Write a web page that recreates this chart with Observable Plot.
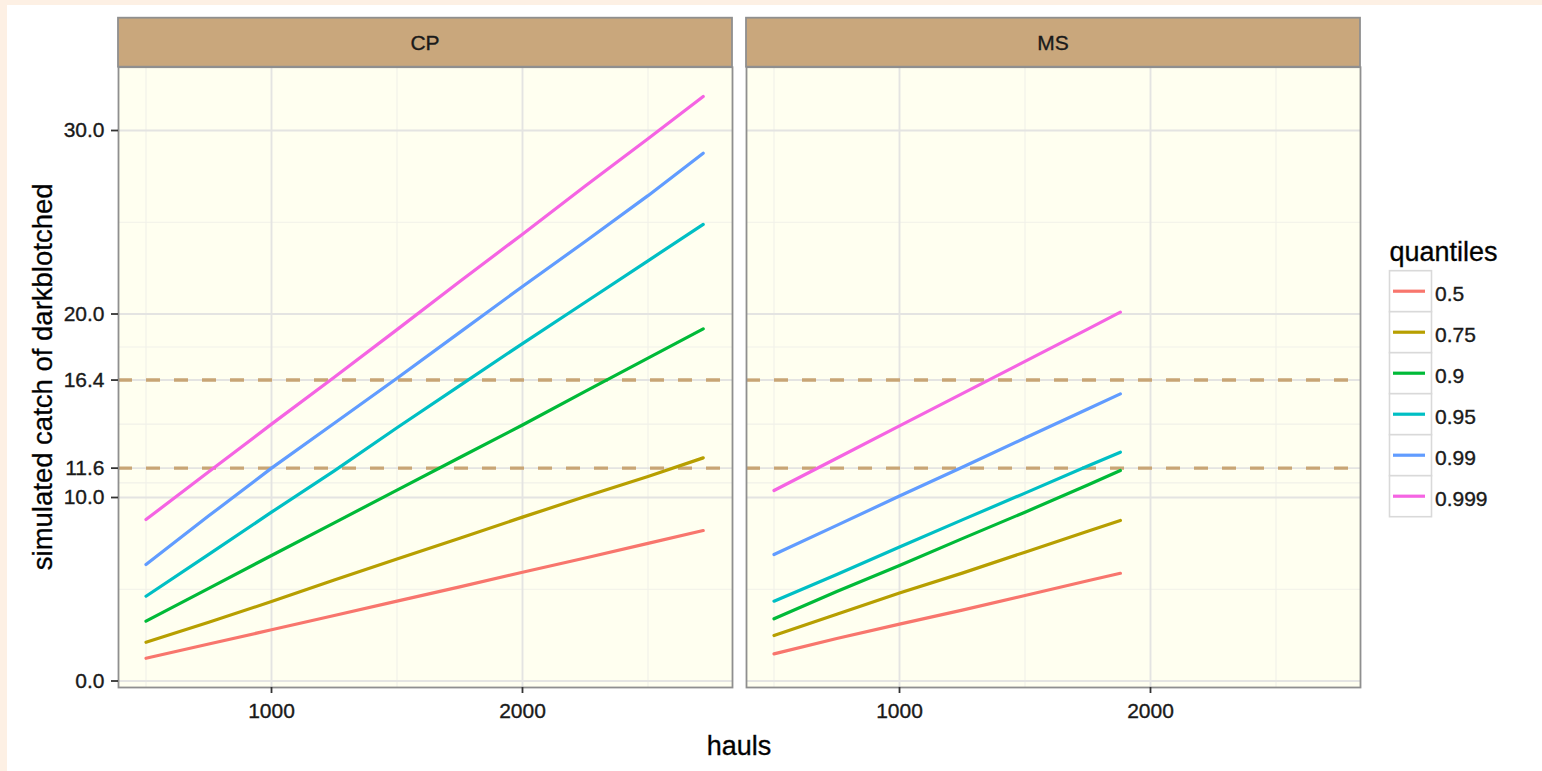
<!DOCTYPE html>
<html>
<head>
<meta charset="utf-8">
<script src="https://cdn.jsdelivr.net/npm/d3@7"></script>
<script src="https://cdn.jsdelivr.net/npm/@observablehq/plot@0.6"></script>
<style>
html, body { margin: 0; padding: 0; background: #fdf0e4; overflow: hidden; }
#page { position: relative; width: 1542px; height: 771px; overflow: hidden; font-family: "Liberation Sans", Arial, sans-serif; }
#white { position: absolute; left: 7px; top: 5px; right: 0; bottom: 0; background: #ffffff; }
#chart { position: absolute; left: 0; top: 0; }
#overlay { position: absolute; left: 0; top: 0; pointer-events: none; }
#chart text { stroke: #1a1a1a; stroke-width: 0.35px; }
</style>
</head>
<body>
<div id="page">
  <div id="white"></div>
  <div id="chart"></div>
</div>
<script>
// ---------------- data ----------------
const panels = ["CP", "MS"];
const quantiles = ["0.5", "0.75", "0.9", "0.95", "0.99", "0.999"];
const colors = ["#F8766D", "#B79F00", "#00BA38", "#00BFC4", "#619CFF", "#F564E3"];

const haulsCP = [500, 750, 1000, 1250, 1500, 1750, 2000, 2250, 2500, 2720];
const cp_0500 = [1.24, 2.02, 2.79, 3.57, 4.35, 5.13, 5.93, 6.7, 7.5, 8.2];
const cp_0750 = [2.11, 3.2, 4.33, 5.5, 6.65, 7.78, 8.93, 10.05, 11.15, 12.16];
const cp_0900 = [3.26, 5.05, 6.84, 8.62, 10.4, 12.18, 13.95, 15.78, 17.6, 19.19];
const cp_0950 = [4.62, 6.9, 9.2, 11.45, 13.8, 16.1, 18.39, 20.64, 22.9, 24.88];
const cp_0990 = [6.35, 9.0, 11.6, 14.05, 16.5, 19.0, 21.5, 23.95, 26.45, 28.76];
const cp_0999 = [8.8, 11.4, 14.0, 16.55, 19.15, 21.77, 24.35, 26.98, 29.55, 31.85];

const haulsMS = [500, 750, 1000, 1250, 1500, 1750, 1880];
const ms_0500 = [1.48, 2.32, 3.1, 3.86, 4.66, 5.46, 5.87];
const ms_0750 = [2.48, 3.64, 4.8, 5.88, 7.02, 8.16, 8.75];
const ms_0900 = [3.39, 4.88, 6.3, 7.76, 9.2, 10.68, 11.47];
const ms_0950 = [4.35, 5.8, 7.3, 8.78, 10.24, 11.72, 12.47];
const ms_0990 = [6.89, 8.48, 10.08, 11.65, 13.24, 14.82, 15.65];
const ms_0999 = [10.38, 12.14, 13.9, 15.66, 17.42, 19.18, 20.1];

const yBreaks = [0, 10, 11.6, 16.4, 20, 30];
const yMinor = [5, 10.8, 14, 18.2, 25];
const xBreaks = [1000, 2000];
const xMinor = [500, 1500, 2500];
const thresholds = [11.6, 16.4];

const xLabel = "hauls";
const yLabel = "simulated catch of darkblotched";
const legendTitle = "quantiles";

// ---------------- table ----------------
const cpSeries = [cp_0500, cp_0750, cp_0900, cp_0950, cp_0990, cp_0999];
const msSeries = [ms_0500, ms_0750, ms_0900, ms_0950, ms_0990, ms_0999];
const rows = [];
quantiles.forEach((q, i) => {
  haulsCP.forEach((h, j) => rows.push({panel: "CP", q, hauls: h, value: cpSeries[i][j]}));
  haulsMS.forEach((h, j) => rows.push({panel: "MS", q, hauls: h, value: msSeries[i][j]}));
});

// ---------------- layout ----------------
const W = 1542, H = 771;
const mL = 118, mR = 182, mT = 66.7, mB = 84;
const gap = 14;
const band = (W - mL - mR - gap) / 2;
const fontFam = "Liberation Sans, Arial, sans-serif";

const chart = Plot.plot({
  width: W,
  height: H,
  marginLeft: mL,
  marginRight: mR,
  marginTop: mT,
  marginBottom: mB,
  style: {background: "transparent", fontFamily: fontFam, fontSize: "21px", color: "#1a1a1a", overflow: "visible"},
  x: {domain: [390.4, 2836.7]},
  y: {domain: [-0.354, 33.45]},
  fx: {domain: panels, paddingInner: gap / (band + gap), paddingOuter: 0, axis: null},
  color: {domain: quantiles, range: colors},
  marks: [
    Plot.frame({fill: "#FFFFF0", stroke: "none"}),
    Plot.gridY({ticks: yMinor, stroke: "#f1f1e9", strokeOpacity: 1, strokeWidth: 1.1}),
    Plot.gridX({ticks: xMinor, stroke: "#f1f1e9", strokeOpacity: 1, strokeWidth: 1.1}),
    Plot.gridY({ticks: yBreaks, stroke: "#e4e4e2", strokeOpacity: 1, strokeWidth: 1.9}),
    Plot.gridX({ticks: xBreaks, stroke: "#e4e4e2", strokeOpacity: 1, strokeWidth: 1.9}),
    Plot.ruleY(thresholds, {stroke: "#C8A575", strokeWidth: 3.4, strokeDasharray: "14,14"}),
    Plot.line(rows, {x: "hauls", y: "value", z: "q", stroke: "q", fx: "panel", strokeWidth: 3.2}),
    Plot.frame({stroke: "#8f8f8f", strokeWidth: 1.8}),
    Plot.axisY({ticks: yBreaks, tickFormat: d3.format(".1f"), tickSize: 7, tickPadding: 7, fontSize: 21,
      stroke: "#333333", strokeWidth: 1.8, fill: "#1a1a1a", label: null, facetAnchor: "left"}),
    Plot.axisX({ticks: xBreaks, tickFormat: d3.format("d"), tickSize: 6, tickPadding: 10, fontSize: 21,
      stroke: "#333333", strokeWidth: 1.8, fill: "#1a1a1a", label: null})
  ]
});
document.getElementById("chart").appendChild(chart);

// ---------------- strips, titles, legend ----------------
const ov = d3.select("#page").append("svg")
  .attr("id", "overlay").attr("width", W).attr("height", H)
  .style("font-family", fontFam);

const heavy = sel => sel.attr("stroke", "#1a1a1a").attr("stroke-width", 0.35);

panels.forEach((p, i) => {
  const x0 = mL + i * (band + gap);
  ov.append("rect")
    .attr("x", x0).attr("y", 17.7).attr("width", band).attr("height", mT - 17.7)
    .attr("fill", "#C9A77C").attr("stroke", "#8f8f8f").attr("stroke-width", 1.8);
  ov.append("text")
    .attr("x", x0 + band / 2).attr("y", 49.5)
    .attr("text-anchor", "middle").attr("font-size", 21).attr("fill", "#1a1a1a")
    .call(heavy)
    .text(p);
});

ov.append("text")
  .attr("x", mL + (W - mL - mR) / 2).attr("y", 754.5)
  .attr("text-anchor", "middle").attr("font-size", 27).attr("fill", "#000")
  .call(heavy)
  .text(xLabel);

ov.append("text")
  .attr("transform", `translate(51.7, ${(mT + (H - mB)) / 2}) rotate(-90)`)
  .attr("text-anchor", "middle").attr("font-size", 27.5).attr("fill", "#000")
  .call(heavy)
  .text(yLabel);

ov.append("text")
  .attr("x", 1389.5).attr("y", 261)
  .attr("font-size", 27).attr("fill", "#000")
  .call(heavy)
  .text(legendTitle);

const keyTop = 270.7, keyH = 41, keyX = 1389.5, keyW = 42;
quantiles.forEach((q, i) => {
  const y0 = keyTop + i * keyH;
  ov.append("rect")
    .attr("x", keyX).attr("y", y0).attr("width", keyW).attr("height", keyH)
    .attr("fill", "#ffffff").attr("stroke", "#d9d9d9").attr("stroke-width", 1.6);
  ov.append("line")
    .attr("x1", keyX + 3.5).attr("x2", keyX + 35.5)
    .attr("y1", y0 + keyH / 2).attr("y2", y0 + keyH / 2)
    .attr("stroke", colors[i]).attr("stroke-width", 3.2);
  ov.append("text")
    .attr("x", 1435).attr("y", y0 + keyH / 2 + 9.3)
    .attr("font-size", 21).attr("fill", "#1a1a1a")
    .call(heavy)
    .text(q);
});
</script>
</body>
</html>
